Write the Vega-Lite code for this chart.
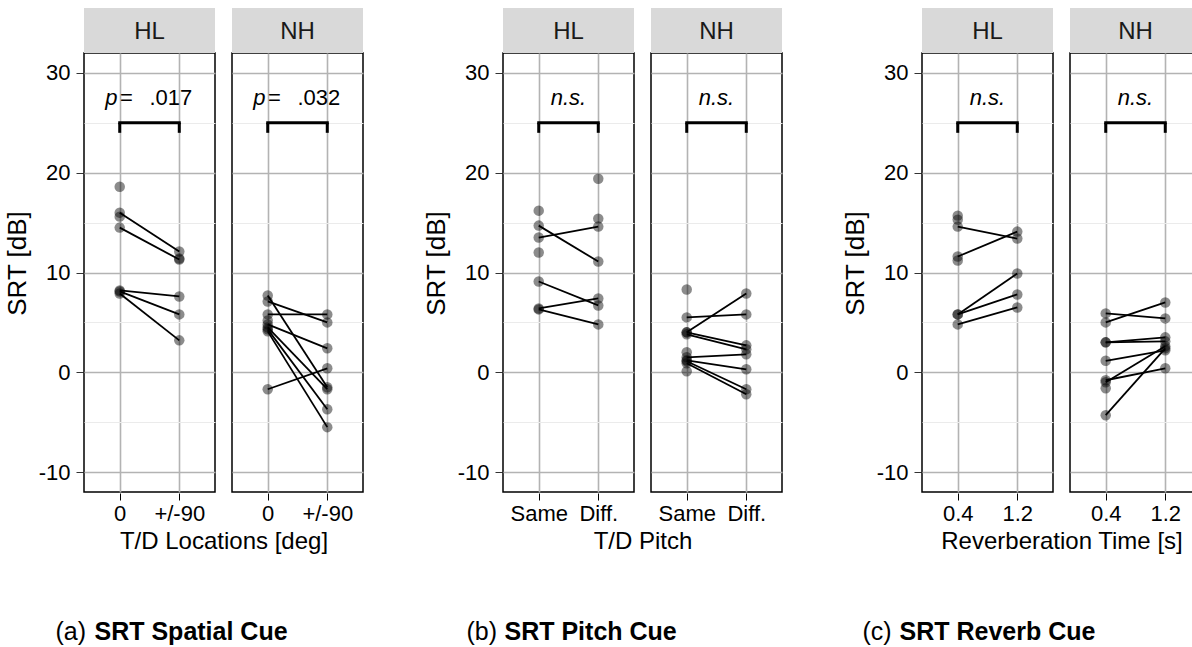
{
"$schema": "https://vega.github.io/schema/vega-lite/v6.json",
"padding": {"left": 4, "top": 7, "right": 0, "bottom": 0},
"config": {
  "font": "Liberation Sans",
  "view": {"stroke": "black", "strokeWidth": 1.5},
  "axisX": {"labelAngle": 0, "domain": false, "tickSize": 7, "tickColor": "black", "grid": true, "gridColor": "#b3b3b3", "gridWidth": 1.6,
    "labelFontSize": 22, "labelColor": "black", "labelPadding": 3}
},
"datasets": {
 "a": [
  {"panel":"HL","kind":"label","from":"0","to":"+/-90","pv":".017"},
  {"panel":"NH","kind":"label","from":"0","to":"+/-90","pv":".032"},
  {"panel":"HL","kind":"obs","subject":"h1","cond":"0","srt":16.0},
  {"panel":"HL","kind":"obs","subject":"h1","cond":"+/-90","srt":12.1},
  {"panel":"HL","kind":"obs","subject":"h2","cond":"0","srt":14.5},
  {"panel":"HL","kind":"obs","subject":"h2","cond":"+/-90","srt":11.3},
  {"panel":"HL","kind":"obs","subject":"h3","cond":"0","srt":8.2},
  {"panel":"HL","kind":"obs","subject":"h3","cond":"+/-90","srt":7.6},
  {"panel":"HL","kind":"obs","subject":"h4","cond":"0","srt":8.1},
  {"panel":"HL","kind":"obs","subject":"h4","cond":"+/-90","srt":5.8},
  {"panel":"HL","kind":"obs","subject":"h5","cond":"0","srt":7.9},
  {"panel":"HL","kind":"obs","subject":"h5","cond":"+/-90","srt":3.2},
  {"panel":"HL","kind":"obs","subject":"h6","cond":"0","srt":18.6},
  {"panel":"HL","kind":"obs","subject":"h7","cond":"0","srt":15.6},
  {"panel":"HL","kind":"obs","subject":"h8","cond":"+/-90","srt":11.4},
  {"panel":"NH","kind":"obs","subject":"n1","cond":"0","srt":7.7},
  {"panel":"NH","kind":"obs","subject":"n1","cond":"+/-90","srt":-1.5},
  {"panel":"NH","kind":"obs","subject":"n2","cond":"0","srt":7.1},
  {"panel":"NH","kind":"obs","subject":"n2","cond":"+/-90","srt":5.0},
  {"panel":"NH","kind":"obs","subject":"n3","cond":"0","srt":5.8},
  {"panel":"NH","kind":"obs","subject":"n3","cond":"+/-90","srt":5.8},
  {"panel":"NH","kind":"obs","subject":"n4","cond":"0","srt":4.8},
  {"panel":"NH","kind":"obs","subject":"n4","cond":"+/-90","srt":2.4},
  {"panel":"NH","kind":"obs","subject":"n5","cond":"0","srt":4.5},
  {"panel":"NH","kind":"obs","subject":"n5","cond":"+/-90","srt":-1.7},
  {"panel":"NH","kind":"obs","subject":"n6","cond":"0","srt":4.3},
  {"panel":"NH","kind":"obs","subject":"n6","cond":"+/-90","srt":-3.7},
  {"panel":"NH","kind":"obs","subject":"n7","cond":"0","srt":4.1},
  {"panel":"NH","kind":"obs","subject":"n7","cond":"+/-90","srt":-5.5},
  {"panel":"NH","kind":"obs","subject":"n8","cond":"0","srt":-1.7},
  {"panel":"NH","kind":"obs","subject":"n8","cond":"+/-90","srt":0.4},
  {"panel":"NH","kind":"obs","subject":"n9","cond":"0","srt":5.2}
 ],
 "b": [
  {"panel":"HL","kind":"label","from":"Same","to":"Diff."},
  {"panel":"NH","kind":"label","from":"Same","to":"Diff."},
  {"panel":"HL","kind":"obs","subject":"b1","cond":"Same","srt":14.7},
  {"panel":"HL","kind":"obs","subject":"b1","cond":"Diff.","srt":11.1},
  {"panel":"HL","kind":"obs","subject":"b2","cond":"Same","srt":13.5},
  {"panel":"HL","kind":"obs","subject":"b2","cond":"Diff.","srt":14.6},
  {"panel":"HL","kind":"obs","subject":"b3","cond":"Same","srt":9.1},
  {"panel":"HL","kind":"obs","subject":"b3","cond":"Diff.","srt":6.7},
  {"panel":"HL","kind":"obs","subject":"b4","cond":"Same","srt":6.4},
  {"panel":"HL","kind":"obs","subject":"b4","cond":"Diff.","srt":7.4},
  {"panel":"HL","kind":"obs","subject":"b5","cond":"Same","srt":6.3},
  {"panel":"HL","kind":"obs","subject":"b5","cond":"Diff.","srt":4.8},
  {"panel":"HL","kind":"obs","subject":"b6","cond":"Same","srt":16.2},
  {"panel":"HL","kind":"obs","subject":"b7","cond":"Same","srt":12.0},
  {"panel":"HL","kind":"obs","subject":"b8","cond":"Diff.","srt":19.4},
  {"panel":"HL","kind":"obs","subject":"b9","cond":"Diff.","srt":15.4},
  {"panel":"NH","kind":"obs","subject":"c1","cond":"Same","srt":5.5},
  {"panel":"NH","kind":"obs","subject":"c1","cond":"Diff.","srt":5.8},
  {"panel":"NH","kind":"obs","subject":"c2","cond":"Same","srt":4.0},
  {"panel":"NH","kind":"obs","subject":"c2","cond":"Diff.","srt":7.9},
  {"panel":"NH","kind":"obs","subject":"c3","cond":"Same","srt":4.0},
  {"panel":"NH","kind":"obs","subject":"c3","cond":"Diff.","srt":2.7},
  {"panel":"NH","kind":"obs","subject":"c4","cond":"Same","srt":3.8},
  {"panel":"NH","kind":"obs","subject":"c4","cond":"Diff.","srt":2.3},
  {"panel":"NH","kind":"obs","subject":"c5","cond":"Same","srt":1.5},
  {"panel":"NH","kind":"obs","subject":"c5","cond":"Diff.","srt":1.8},
  {"panel":"NH","kind":"obs","subject":"c6","cond":"Same","srt":1.2},
  {"panel":"NH","kind":"obs","subject":"c6","cond":"Diff.","srt":0.3},
  {"panel":"NH","kind":"obs","subject":"c7","cond":"Same","srt":1.1},
  {"panel":"NH","kind":"obs","subject":"c7","cond":"Diff.","srt":-1.7},
  {"panel":"NH","kind":"obs","subject":"c8","cond":"Same","srt":0.9},
  {"panel":"NH","kind":"obs","subject":"c8","cond":"Diff.","srt":-2.2},
  {"panel":"NH","kind":"obs","subject":"c9","cond":"Same","srt":8.3},
  {"panel":"NH","kind":"obs","subject":"c10","cond":"Same","srt":2.0},
  {"panel":"NH","kind":"obs","subject":"c11","cond":"Same","srt":0.1}
 ],
 "c": [
  {"panel":"HL","kind":"label","from":"0.4","to":"1.2"},
  {"panel":"NH","kind":"label","from":"0.4","to":"1.2"},
  {"panel":"HL","kind":"obs","subject":"r1","cond":"0.4","srt":14.6},
  {"panel":"HL","kind":"obs","subject":"r1","cond":"1.2","srt":13.4},
  {"panel":"HL","kind":"obs","subject":"r2","cond":"0.4","srt":11.6},
  {"panel":"HL","kind":"obs","subject":"r2","cond":"1.2","srt":14.1},
  {"panel":"HL","kind":"obs","subject":"r3","cond":"0.4","srt":5.8},
  {"panel":"HL","kind":"obs","subject":"r3","cond":"1.2","srt":9.9},
  {"panel":"HL","kind":"obs","subject":"r4","cond":"0.4","srt":5.8},
  {"panel":"HL","kind":"obs","subject":"r4","cond":"1.2","srt":7.8},
  {"panel":"HL","kind":"obs","subject":"r5","cond":"0.4","srt":4.8},
  {"panel":"HL","kind":"obs","subject":"r5","cond":"1.2","srt":6.5},
  {"panel":"HL","kind":"obs","subject":"r6","cond":"0.4","srt":15.7},
  {"panel":"HL","kind":"obs","subject":"r7","cond":"0.4","srt":15.3},
  {"panel":"HL","kind":"obs","subject":"r8","cond":"0.4","srt":11.2},
  {"panel":"NH","kind":"obs","subject":"q1","cond":"0.4","srt":5.9},
  {"panel":"NH","kind":"obs","subject":"q1","cond":"1.2","srt":5.4},
  {"panel":"NH","kind":"obs","subject":"q2","cond":"0.4","srt":5.0},
  {"panel":"NH","kind":"obs","subject":"q2","cond":"1.2","srt":7.0},
  {"panel":"NH","kind":"obs","subject":"q3","cond":"0.4","srt":3.0},
  {"panel":"NH","kind":"obs","subject":"q3","cond":"1.2","srt":3.5},
  {"panel":"NH","kind":"obs","subject":"q4","cond":"0.4","srt":3.0},
  {"panel":"NH","kind":"obs","subject":"q4","cond":"1.2","srt":3.1},
  {"panel":"NH","kind":"obs","subject":"q5","cond":"0.4","srt":1.15},
  {"panel":"NH","kind":"obs","subject":"q5","cond":"1.2","srt":2.2},
  {"panel":"NH","kind":"obs","subject":"q6","cond":"0.4","srt":-0.8},
  {"panel":"NH","kind":"obs","subject":"q6","cond":"1.2","srt":0.4},
  {"panel":"NH","kind":"obs","subject":"q7","cond":"0.4","srt":-1.0},
  {"panel":"NH","kind":"obs","subject":"q7","cond":"1.2","srt":2.6},
  {"panel":"NH","kind":"obs","subject":"q8","cond":"0.4","srt":-4.3},
  {"panel":"NH","kind":"obs","subject":"q8","cond":"1.2","srt":2.4},
  {"panel":"NH","kind":"obs","subject":"q9","cond":"0.4","srt":-1.6}
 ]
},
"spacing": 59,
"hconcat": [
 {"vconcat": [
  {"data": {"name": "a"},
   "facet": {"column": {"field": "panel", "type": "nominal", "sort": ["HL","NH"], "title": "T/D Locations [deg]",
      "header": {"labels": false, "titleOrient": "bottom", "titleFontSize": 24, "titleFontWeight": "normal", "titleColor": "black", "titlePadding": -4}}},
   "spacing": {"column": 15},
   "spec": {"width": 131, "height": 439, "layer": [
    {"transform": [{"filter": "datum.kind == 'label'"}], "mark": {"type": "rect", "color": "#d9d9d9"}, "encoding": {"y": {"datum": 32}, "y2": {"datum": 36.5}}},
    {"transform": [{"filter": "datum.kind == 'label'"}], "mark": {"type": "text", "fontSize": 24, "color": "#1a1a1a", "baseline": "middle"}, "encoding": {"y": {"datum": 34.15}, "text": {"field": "panel"}}},
    {"transform": [{"filter": "datum.kind == 'obs'"}], "mark": {"type": "circle", "size": 110, "color": "black", "opacity": 0.45},
     "encoding": {"x": {"field": "cond", "type": "ordinal", "title": null, "scale": {"type": "point", "padding": 0.6, "domain": ["0","+/-90"]}},
                  "y": {"field": "srt", "type": "quantitative", "title": "SRT [dB]", "scale": {"domain": [-12, 32], "nice": false, "zero": false},
                        "axis": {"grid": true, "values": [-10,-5,0,5,10,15,20,25,30], "labelExpr": "datum.value % 10 === 0 ? toString(datum.value) : ''",
                          "gridColor": {"condition": {"test": "datum.value % 10 === 0", "value": "#b3b3b3"}, "value": "#ebebeb"},
                          "gridWidth": {"condition": {"test": "datum.value % 10 === 0", "value": 1.6}, "value": 1.2},
                          "tickOpacity": {"condition": {"test": "datum.value % 10 === 0", "value": 1}, "value": 0},
                          "domain": false, "tickSize": 7, "tickColor": "#333333", "labelFontSize": 22, "labelColor": "black",
                          "titleFontSize": 26, "titleFontWeight": "normal", "titleColor": "black", "labelPadding": 6, "titlePadding": 8, "titleY": 210}}}},
    {"transform": [{"filter": "datum.kind == 'obs'"}], "mark": {"type": "line", "color": "black", "strokeWidth": 1.8},
     "encoding": {"x": {"field": "cond", "type": "ordinal", "title": null}, "y": {"field": "srt", "type": "quantitative", "title": "SRT [dB]"}, "detail": {"field": "subject"}}},
    {"transform": [{"filter": "datum.kind == 'label'"}], "mark": {"type": "rule", "color": "black", "strokeWidth": 3, "strokeCap": "square"},
     "encoding": {"x": {"field": "from", "type": "ordinal", "title": null}, "x2": {"field": "to"}, "y": {"datum": 25}}},
    {"transform": [{"filter": "datum.kind == 'label'"}], "mark": {"type": "rule", "color": "black", "strokeWidth": 3},
     "encoding": {"x": {"field": "from", "type": "ordinal", "title": null}, "y": {"datum": 24}, "y2": {"datum": 25}}},
    {"transform": [{"filter": "datum.kind == 'label'"}], "mark": {"type": "rule", "color": "black", "strokeWidth": 3},
     "encoding": {"x": {"field": "to", "type": "ordinal", "title": null}, "y": {"datum": 24}, "y2": {"datum": 25}}},
    {"transform": [{"filter": "datum.kind == 'label'"}], "mark": {"type": "text", "fontSize": 22, "fontStyle": "italic", "align": "right", "baseline": "middle", "dx": -32},
     "encoding": {"y": {"datum": 27.5}, "text": {"value": "p"}}},
    {"transform": [{"filter": "datum.kind == 'label'"}], "mark": {"type": "text", "fontSize": 22, "align": "center", "baseline": "middle", "dx": -23},
     "encoding": {"y": {"datum": 27.5}, "text": {"value": "="}}},
    {"transform": [{"filter": "datum.kind == 'label'"}], "mark": {"type": "text", "fontSize": 22, "align": "left", "baseline": "middle", "dx": 0},
     "encoding": {"y": {"datum": 27.5}, "text": {"field": "pv"}}}
   ]}},
  {"width": 277, "height": 30, "view": {"stroke": null}, "data": {"values": [{"tag": "(a)", "name": "SRT Spatial Cue"}]},
   "layer": [
    {"mark": {"type": "text", "fontSize": 25, "align": "left", "baseline": "middle", "dx": -167}, "encoding": {"text": {"field": "tag"}}},
    {"mark": {"type": "text", "fontSize": 25, "fontWeight": "bold", "align": "left", "baseline": "middle", "dx": -128}, "encoding": {"text": {"field": "name"}}}
   ]}
 ], "spacing": 63},
 {"vconcat": [
  {"data": {"name": "b"},
   "facet": {"column": {"field": "panel", "type": "nominal", "sort": ["HL","NH"], "title": "T/D Pitch",
      "header": {"labels": false, "titleOrient": "bottom", "titleFontSize": 24, "titleFontWeight": "normal", "titleColor": "black", "titlePadding": -4}}},
   "spacing": {"column": 15},
   "spec": {"width": 131, "height": 439, "layer": [
    {"transform": [{"filter": "datum.kind == 'label'"}], "mark": {"type": "rect", "color": "#d9d9d9"}, "encoding": {"y": {"datum": 32}, "y2": {"datum": 36.5}}},
    {"transform": [{"filter": "datum.kind == 'label'"}], "mark": {"type": "text", "fontSize": 24, "color": "#1a1a1a", "baseline": "middle"}, "encoding": {"y": {"datum": 34.15}, "text": {"field": "panel"}}},
    {"transform": [{"filter": "datum.kind == 'obs'"}], "mark": {"type": "circle", "size": 110, "color": "black", "opacity": 0.45},
     "encoding": {"x": {"field": "cond", "type": "ordinal", "title": null, "scale": {"type": "point", "padding": 0.6, "domain": ["Same","Diff."]}},
                  "y": {"field": "srt", "type": "quantitative", "title": "SRT [dB]", "scale": {"domain": [-12, 32], "nice": false, "zero": false},
                        "axis": {"grid": true, "values": [-10,-5,0,5,10,15,20,25,30], "labelExpr": "datum.value % 10 === 0 ? toString(datum.value) : ''",
                          "gridColor": {"condition": {"test": "datum.value % 10 === 0", "value": "#b3b3b3"}, "value": "#ebebeb"},
                          "gridWidth": {"condition": {"test": "datum.value % 10 === 0", "value": 1.6}, "value": 1.2},
                          "tickOpacity": {"condition": {"test": "datum.value % 10 === 0", "value": 1}, "value": 0},
                          "domain": false, "tickSize": 7, "tickColor": "#333333", "labelFontSize": 22, "labelColor": "black",
                          "titleFontSize": 26, "titleFontWeight": "normal", "titleColor": "black", "labelPadding": 6, "titlePadding": 8, "titleY": 210}}}},
    {"transform": [{"filter": "datum.kind == 'obs'"}], "mark": {"type": "line", "color": "black", "strokeWidth": 1.8},
     "encoding": {"x": {"field": "cond", "type": "ordinal", "title": null}, "y": {"field": "srt", "type": "quantitative", "title": "SRT [dB]"}, "detail": {"field": "subject"}}},
    {"transform": [{"filter": "datum.kind == 'label'"}], "mark": {"type": "rule", "color": "black", "strokeWidth": 3, "strokeCap": "square"},
     "encoding": {"x": {"field": "from", "type": "ordinal", "title": null}, "x2": {"field": "to"}, "y": {"datum": 25}}},
    {"transform": [{"filter": "datum.kind == 'label'"}], "mark": {"type": "rule", "color": "black", "strokeWidth": 3},
     "encoding": {"x": {"field": "from", "type": "ordinal", "title": null}, "y": {"datum": 24}, "y2": {"datum": 25}}},
    {"transform": [{"filter": "datum.kind == 'label'"}], "mark": {"type": "rule", "color": "black", "strokeWidth": 3},
     "encoding": {"x": {"field": "to", "type": "ordinal", "title": null}, "y": {"datum": 24}, "y2": {"datum": 25}}},
    {"transform": [{"filter": "datum.kind == 'label'"}], "mark": {"type": "text", "fontSize": 22, "fontStyle": "italic", "align": "center", "baseline": "middle"},
     "encoding": {"y": {"datum": 27.5}, "text": {"value": "n.s."}}}
   ]}},
  {"width": 277, "height": 30, "view": {"stroke": null}, "data": {"values": [{"tag": "(b)", "name": "SRT Pitch Cue"}]},
   "layer": [
    {"mark": {"type": "text", "fontSize": 25, "align": "left", "baseline": "middle", "dx": -175}, "encoding": {"text": {"field": "tag"}}},
    {"mark": {"type": "text", "fontSize": 25, "fontWeight": "bold", "align": "left", "baseline": "middle", "dx": -137}, "encoding": {"text": {"field": "name"}}}
   ]}
 ], "spacing": 63},
 {"vconcat": [
  {"data": {"name": "c"},
   "facet": {"column": {"field": "panel", "type": "nominal", "sort": ["HL","NH"], "title": "Reverberation Time [s]",
      "header": {"labels": false, "titleOrient": "bottom", "titleFontSize": 24, "titleFontWeight": "normal", "titleColor": "black", "titlePadding": -4}}},
   "spacing": {"column": 15},
   "spec": {"width": 131, "height": 439, "layer": [
    {"transform": [{"filter": "datum.kind == 'label'"}], "mark": {"type": "rect", "color": "#d9d9d9"}, "encoding": {"y": {"datum": 32}, "y2": {"datum": 36.5}}},
    {"transform": [{"filter": "datum.kind == 'label'"}], "mark": {"type": "text", "fontSize": 24, "color": "#1a1a1a", "baseline": "middle"}, "encoding": {"y": {"datum": 34.15}, "text": {"field": "panel"}}},
    {"transform": [{"filter": "datum.kind == 'obs'"}], "mark": {"type": "circle", "size": 110, "color": "black", "opacity": 0.45},
     "encoding": {"x": {"field": "cond", "type": "ordinal", "title": null, "scale": {"type": "point", "padding": 0.6, "domain": ["0.4","1.2"]}},
                  "y": {"field": "srt", "type": "quantitative", "title": "SRT [dB]", "scale": {"domain": [-12, 32], "nice": false, "zero": false},
                        "axis": {"grid": true, "values": [-10,-5,0,5,10,15,20,25,30], "labelExpr": "datum.value % 10 === 0 ? toString(datum.value) : ''",
                          "gridColor": {"condition": {"test": "datum.value % 10 === 0", "value": "#b3b3b3"}, "value": "#ebebeb"},
                          "gridWidth": {"condition": {"test": "datum.value % 10 === 0", "value": 1.6}, "value": 1.2},
                          "tickOpacity": {"condition": {"test": "datum.value % 10 === 0", "value": 1}, "value": 0},
                          "domain": false, "tickSize": 7, "tickColor": "#333333", "labelFontSize": 22, "labelColor": "black",
                          "titleFontSize": 26, "titleFontWeight": "normal", "titleColor": "black", "labelPadding": 6, "titlePadding": 8, "titleY": 210}}}},
    {"transform": [{"filter": "datum.kind == 'obs'"}], "mark": {"type": "line", "color": "black", "strokeWidth": 1.8},
     "encoding": {"x": {"field": "cond", "type": "ordinal", "title": null}, "y": {"field": "srt", "type": "quantitative", "title": "SRT [dB]"}, "detail": {"field": "subject"}}},
    {"transform": [{"filter": "datum.kind == 'label'"}], "mark": {"type": "rule", "color": "black", "strokeWidth": 3, "strokeCap": "square"},
     "encoding": {"x": {"field": "from", "type": "ordinal", "title": null}, "x2": {"field": "to"}, "y": {"datum": 25}}},
    {"transform": [{"filter": "datum.kind == 'label'"}], "mark": {"type": "rule", "color": "black", "strokeWidth": 3},
     "encoding": {"x": {"field": "from", "type": "ordinal", "title": null}, "y": {"datum": 24}, "y2": {"datum": 25}}},
    {"transform": [{"filter": "datum.kind == 'label'"}], "mark": {"type": "rule", "color": "black", "strokeWidth": 3},
     "encoding": {"x": {"field": "to", "type": "ordinal", "title": null}, "y": {"datum": 24}, "y2": {"datum": 25}}},
    {"transform": [{"filter": "datum.kind == 'label'"}], "mark": {"type": "text", "fontSize": 22, "fontStyle": "italic", "align": "center", "baseline": "middle"},
     "encoding": {"y": {"datum": 27.5}, "text": {"value": "n.s."}}}
   ]}},
  {"width": 277, "height": 30, "view": {"stroke": null}, "data": {"values": [{"tag": "(c)", "name": "SRT Reverb Cue"}]},
   "layer": [
    {"mark": {"type": "text", "fontSize": 25, "align": "left", "baseline": "middle", "dx": -198}, "encoding": {"text": {"field": "tag"}}},
    {"mark": {"type": "text", "fontSize": 25, "fontWeight": "bold", "align": "left", "baseline": "middle", "dx": -161}, "encoding": {"text": {"field": "name"}}}
   ]}
 ], "spacing": 63}
]
}
